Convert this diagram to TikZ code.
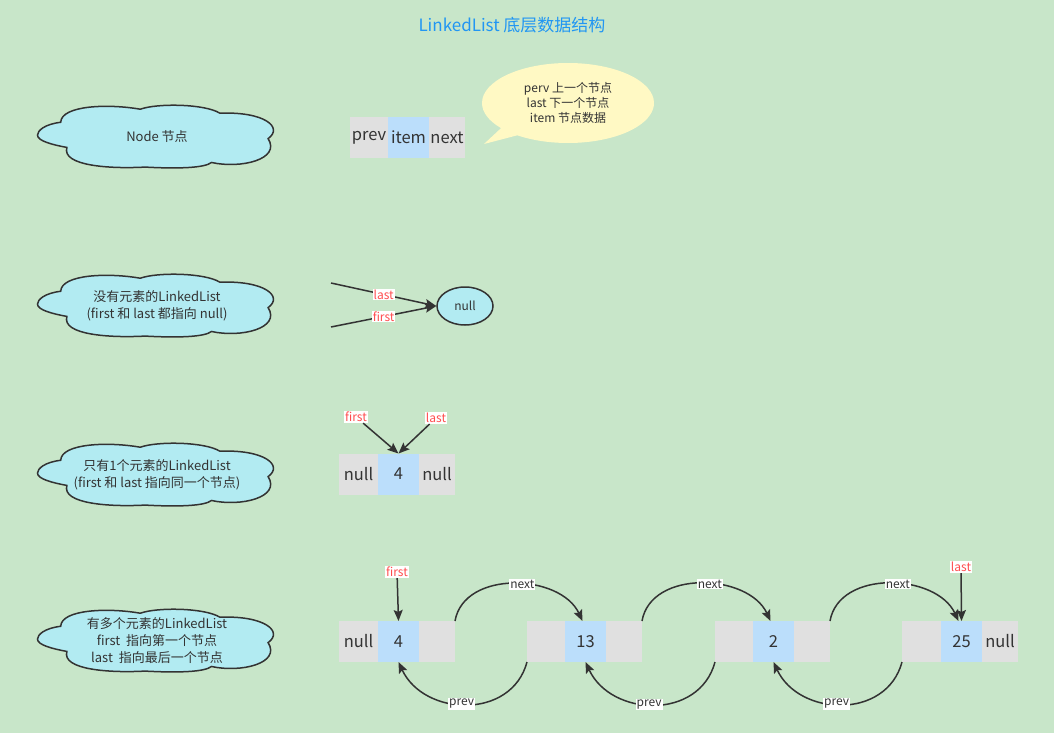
\documentclass[tikz,border=0pt]{standalone}
\usepackage{fontspec}
\setmainfont{Noto Sans CJK SC}
\usepackage{tikz}
\usetikzlibrary{positioning,shapes.geometric,shapes.callouts,arrows.meta}
\definecolor{bg}{HTML}{C8E6C9}
\definecolor{cellgray}{HTML}{E0E0E0}
\definecolor{cellblue}{HTML}{BBDEFB}
\definecolor{cloudfill}{HTML}{B2EBF2}
\definecolor{tipfill}{HTML}{FFF9C4}
\definecolor{titleblue}{HTML}{2196F3}
\definecolor{ptrred}{HTML}{FF4D4F}
\definecolor{ink}{HTML}{333333}
\tikzset{
  cloudpic/.pic={
    \filldraw[draw=ink,fill=cloudfill,line width=1.5pt,shift={(-0.5,-0.5)}]
      (0.097,0.27) .. controls (0.03,0.3) and (0,0.4) .. (0,0.47)
      .. controls (0,0.56) and (0.06,0.62) .. (0.123,0.663)
      .. controls (0.1,0.95) and (0.3,1.0) .. (0.45,0.97)
      .. controls (0.6,1.0) and (0.7,0.98) .. (0.728,0.898)
      .. controls (0.85,1.0) and (1.02,0.85) .. (0.965,0.525)
      .. controls (1.03,0.35) and (0.95,0.1) .. (0.763,0.128)
      .. controls (0.7,-0.02) and (0.5,-0.03) .. (0.43,0.066)
      .. controls (0.3,-0.02) and (0.1,0.0) .. (0.097,0.27) -- cycle;
  }
}

\begin{document}
\begin{tikzpicture}
[x=1pt,y=-1pt,
 every node/.style={text=ink,font=\fontsize{12}{15}\selectfont},
 cloudsize/.style={x=239pt,y=-64pt},
 cloudtext/.style={align=center,inner sep=0pt,font=\fontsize{13}{17}\selectfont},
 cell/.style={minimum height=41pt,inner sep=0pt,outer sep=0pt,font=\fontsize{16.5}{18}\selectfont},
 gcell/.style={cell,fill=cellgray,minimum width=38pt},
 vcell/.style={cell,fill=cellblue,minimum width=41pt},
 ecell/.style={cell,fill=cellgray,minimum width=36pt},
 ptr/.style={fill=white,text=ptrred,inner sep=1pt},
 lbl/.style={fill=white,inner sep=1pt},
 arr/.style={draw=ink,line width=1.5pt,-{Stealth[length=11pt,width=9pt,inset=2pt]}}]
\fill[bg] (0,0) rectangle (1054,733);
\useasboundingbox (0,0) rectangle (1054,733);

% title
\node[text=titleblue,font=\fontsize{17}{19}\selectfont] (title) at (512,25) {LinkedList 底层数据结构};

% clouds
\path (157,137) pic[cloudsize] {cloudpic} node[cloudtext] (c1) {Node 节点};
\path (157,306) pic[cloudsize] {cloudpic} node[cloudtext] (c2) {没有元素的LinkedList\\(first 和 last 都指向 null)};
\path (157,475) pic[cloudsize] {cloudpic} node[cloudtext] (c3) {只有1个元素的LinkedList\\(first 和 last 指向同一个节点)};
\path (157,641) pic[cloudsize] {cloudpic} node[cloudtext] (c4) {有多个元素的LinkedList\\first \ 指向第一个节点\\last \ 指向最后一个节点};

% node layout
\node[gcell,anchor=west] (prev) at (350,137.5) {prev};
\node[vcell,right=0pt of prev] (item) {item};
\node[ecell,right=0pt of item] (next) {next};
\coordinate (tail) at (484,144);
\node[ellipse callout,fill=tipfill,callout absolute pointer={(tail)},minimum width=172pt,
      minimum height=80pt,align=center,inner sep=0pt] (tip) at (568,103)
      {perv 上一个节点\\last 下一个节点\\item 节点数据};

% empty list
\node[ellipse,draw=ink,line width=1.5pt,fill=cloudfill,minimum width=56pt,minimum height=38pt] (nil) at (465,306) {null};
\coordinate (last0) at (331,283);
\coordinate (first0) at (331,327);
\draw[arr] (last0) -- node[ptr] {last} (nil.west);
\draw[arr] (first0) -- node[ptr] {first} (nil.west);

% one element
\node[gcell,anchor=west,minimum width=39pt] (l1) at (339,474) {null};
\node[vcell,right=0pt of l1] (v1) {4};
\node[ecell,right=0pt of v1] (r1) {null};
\node[ptr] (first1) at (356,417) {first};
\node[ptr] (last1) at (436,418) {last};
\draw[arr] (first1) -- (v1.north);
\draw[arr] (last1) -- (v1.north);

% several elements
\node[gcell,anchor=west,minimum width=39pt] (l4a) at (339,641.5) {null};
\node[vcell,right=0pt of l4a] (v4a) {4};
\node[ecell,right=0pt of v4a] (r4a) {};
\node[gcell,anchor=west] (l4b) at (527,641.5) {};
\node[vcell,right=0pt of l4b] (v4b) {13};
\node[ecell,right=0pt of v4b] (r4b) {};
\node[gcell,anchor=west] (l4c) at (715,641.5) {};
\node[vcell,right=0pt of l4c] (v4c) {2};
\node[ecell,right=0pt of v4c] (r4c) {};
\node[gcell,anchor=west,minimum width=39pt] (l4d) at (902,641.5) {};
\node[vcell,right=0pt of l4d] (v4d) {25};
\node[ecell,right=0pt of v4d] (r4d) {null};
\node[ptr] (first2) at (397,572) {first};
\node[ptr] (last2) at (961,567) {last};
\draw[arr] (first2) -- (v4a.north);
\draw[arr] (last2) -- (v4d.north);

\draw[arr] (r4a.north east) to[out=80,in=115,looseness=1.05] node[lbl,pos=0.55] {next} ([xshift=-3pt]v4b.north);
\draw[arr] (r4b.north east) to[out=80,in=115,looseness=1.05] node[lbl,pos=0.55] {next} ([xshift=-3pt]v4c.north);
\draw[arr] (r4c.north east) to[out=80,in=115,looseness=1.05] node[lbl,pos=0.55] {next} ([xshift=-3pt]v4d.north);
\draw[arr] (l4b.south west) to[out=-105,in=-65,looseness=1.2] node[lbl,pos=0.53] {prev} (v4a.south);
\draw[arr] (l4c.south west) to[out=-105,in=-65,looseness=1.2] node[lbl,pos=0.53] {prev} (v4b.south);
\draw[arr] (l4d.south west) to[out=-105,in=-65,looseness=1.2] node[lbl,pos=0.53] {prev} (v4c.south);
\end{tikzpicture}
\end{document}
